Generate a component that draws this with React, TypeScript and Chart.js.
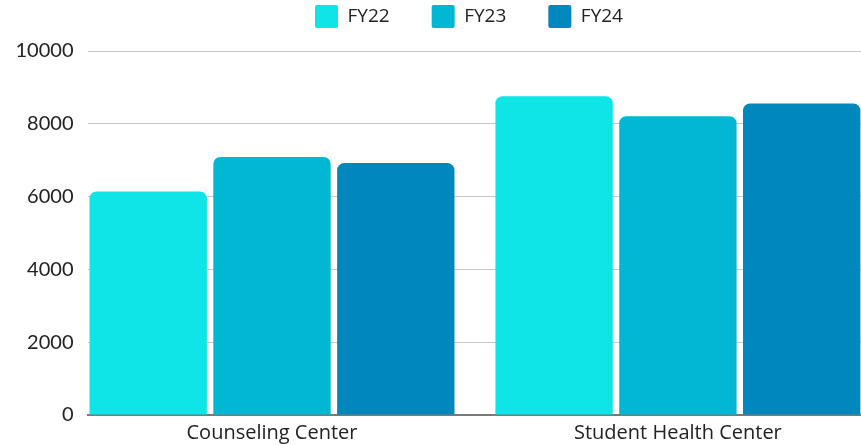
import React, { useEffect, useRef } from "react";
import { Chart, registerables } from "chart.js";

Chart.register(...registerables);

const categories = ["Counseling Center", "Student Health Center"];
const seriesNames = ["FY22", "FY23", "FY24"];
const fy22 = [6140, 8760];
const fy23 = [7090, 8210];
const fy24 = [6920, 8560];
const colors = ["#0fe4e6", "#01b7d4", "#0087bb"];
const yTicks = [0, 2000, 4000, 6000, 8000, 10000];
const categoryIndex = [0, 1];

export default function App() {
  const ref = useRef<HTMLCanvasElement>(null);
  useEffect(() => {
    const values = [fy22, fy23, fy24];
    const chart = new Chart(ref.current!, {
      type: "bar",
      data: {
        datasets: seriesNames.map((n, i) => ({
          label: n,
          data: values[i].map((v, j) => ({ x: categoryIndex[j], y: v })),
          backgroundColor: colors[i],
          borderRadius: { topLeft: 7, topRight: 7, bottomLeft: 0, bottomRight: 0 },
          borderSkipped: false,
          barPercentage: 0.948,
          categoryPercentage: 0.915,
        })),
      },
      options: {
        responsive: false,
        animation: false,
        layout: { padding: { left: 0, right: 0, top: -37, bottom: 0 } },
        plugins: {
          legend: {
            position: "top",
            labels: {
              boxWidth: 23,
              boxHeight: 23,
              padding: 42,
              useBorderRadius: true,
              borderRadius: 2,
              color: "#222",
              font: { family: "'Open Sans', sans-serif", size: 19 },
            },
          },
          tooltip: { enabled: false },
        },
        scales: {
          x: {
            type: "linear",
            offset: false,
            min: -0.4533,
            max: 1.6408,
            afterBuildTicks: (s: any) => { s.ticks = categoryIndex.map((v) => ({ value: v })); },
            grid: { display: false, drawTicks: false, offset: false },
            border: { display: true, color: "#7a7a7a", width: 2 },
            ticks: {
              color: "#222",
              padding: 6,
              autoSkip: false,
              maxRotation: 0,
              callback: (v: any) => categories[Number(v)] ?? "",
              font: { family: "'Open Sans', sans-serif", size: 20 },
            },
            afterFit: (s: any) => { s.height = 30; },
          },
          spacer: {
            type: "linear",
            position: "top",
            display: true,
            grid: { display: false, drawTicks: false },
            border: { display: false },
            ticks: { display: false },
            afterFit: (s: any) => { s.height = 13; },
          },
          y: {
            min: 0,
            max: 10000,
            afterBuildTicks: (s: any) => { s.ticks = yTicks.map((v) => ({ value: v })); },
            grid: { color: "#c8c8c8", lineWidth: 1, drawTicks: false },
            border: { display: false },
            ticks: {
              color: "#222",
              padding: 14.5,
              callback: (v: any) => String(v),
              font: { family: "'Lato', sans-serif", size: 20 },
            },
            afterFit: (s: any) => { s.width = 88; },
          },
        },
      },
    });
    return () => chart.destroy();
  }, []);
  return (
    <div style={{ position: "absolute", left: 0, top: 0, width: 861, height: 445, overflow: "hidden" }}>
      <canvas ref={ref} width={938} height={445} style={{ display: "block" }} />
    </div>
  );
}
